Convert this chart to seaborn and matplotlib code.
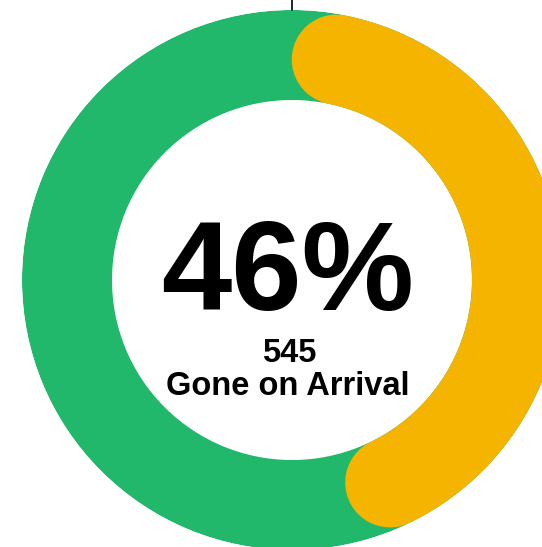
import numpy as np
import matplotlib
matplotlib.use('Agg')
import matplotlib.pyplot as plt
import seaborn as sns

#------------------------------------------
pct=46              #share shown in orange
count=545
label='Gone on Arrival'
c_base='#22B86B'
c_part='#F4B400'

#------------------------------------------
sns.set_style('white')
plt.rcParams['font.family']=['Liberation Sans', 'DejaVu Sans']
plt.rcParams['text.color']='black'

W, H=542, 547
cx, cy, r_out, r_in=292, 280, 270, 180   #ring geometry in pixels

fig=plt.figure(figsize=(W/100, H/100), dpi=100)
ax=fig.add_axes([(cx-r_out)/W, (H-cy-r_out)/H, 2*r_out/W, 2*r_out/H], projection='polar')
ax.set_theta_zero_location('N')
ax.set_theta_direction(-1)
ax.set_ylim(0, 1)
ax.set_axis_off()

#base ring
ax.bar(0, 1-r_in/r_out, width=2*np.pi, bottom=r_in/r_out, color=c_base, edgecolor='none')

#share arc with round caps
r_mid=(r_out+r_in)/2/r_out
lw_px=r_out-r_in
cap=(lw_px/2)/((r_out+r_in)/2)
theta=np.linspace(cap, pct/100*2*np.pi-cap, 200)
sns.lineplot(x=theta, y=np.full_like(theta, r_mid), ax=ax, color=c_part,
             linewidth=lw_px*0.72, solid_capstyle='round', sort=False, estimator=None)

#small marker at the top
ax.plot([0, 0], [1.0, 1.04], color='black', lw=1.2, clip_on=False)

#text
fig.text(288/W, 1-310/H, f'{pct}%', ha='center', va='baseline', fontsize=91, weight='bold')
fig.text(289/W, 1-362/H, f'{count}', ha='center', va='baseline', fontsize=23.5, weight='bold')
fig.text(288/W, 1-395/H, label, ha='center', va='baseline', fontsize=23.5, weight='bold')

fig.savefig('out.png', dpi=100)
